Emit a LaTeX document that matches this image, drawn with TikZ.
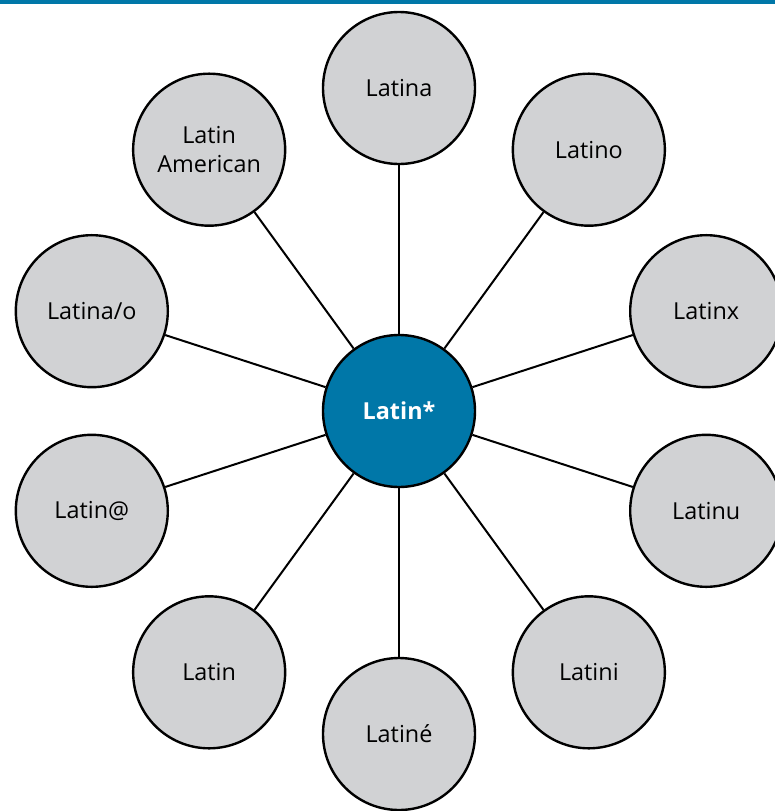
\documentclass[tikz,border=0pt]{standalone}
\usepackage{fontspec}
\setmainfont{Open Sans}
\usetikzlibrary{calc}
\definecolor{hubblue}{RGB}{0,119,168}
\definecolor{termgray}{RGB}{209,210,212}
\begin{document}
\begin{tikzpicture}[x=1pt,y=1pt,
  term/.style={circle, draw=black, line width=2.4pt, fill=termgray,
    minimum size=152pt, inner sep=0pt, align=center,
    font=\fontsize{23.4}{29}\selectfont, text=black},
  hub/.style={term, fill=hubblue, text=white,
    font=\fontsize{23.4}{29}\selectfont\bfseries},
  link/.style={line width=2pt, draw=black}]
\useasboundingbox (0,0) rectangle (775,-811);
% top rule
\fill[hubblue] (0,0) rectangle (775,-4);
% central term
\node[hub] (c) at (399,-411) {Latin*};
% surrounding variants, placed on a ring every 36 degrees
\foreach \nm/\ang/\txt in {
    latina/90/{Latina},
    latino/54/{Latino},
    latinx/18/{Latinx},
    latinu/-18/{Latinu},
    latini/-54/{Latini},
    latine/-90/{Latiné},
    latin/-126/{Latin},
    latinat/-162/{Latin@},
    latinao/162/{Latina/o},
    latinam/126/{Latin\\American}} {
  \node[term] (\nm) at ($(c)+(\ang:323)$) {\txt};
  \draw[link] (c) -- (\nm);
}
\end{tikzpicture}
\end{document}
